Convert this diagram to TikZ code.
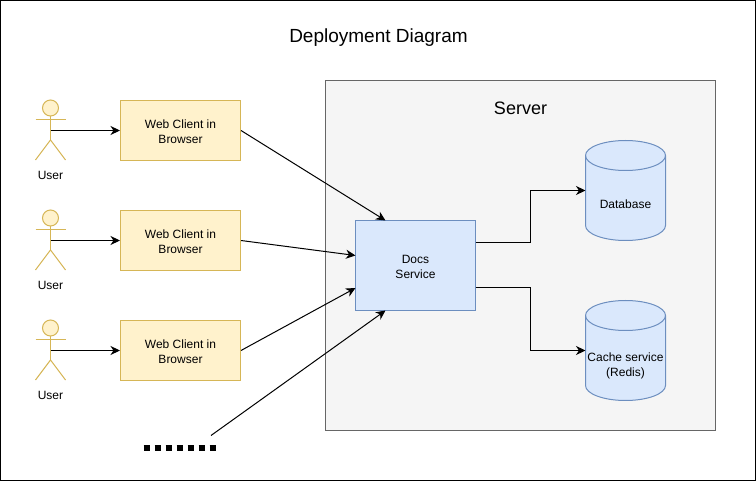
\documentclass[tikz,border=0pt]{standalone}
\usepackage{fontspec}
\setmainfont{Liberation Sans}
\usetikzlibrary{arrows.meta}
\definecolor{yfill}{HTML}{FFF2CC}
\definecolor{ystroke}{HTML}{D6B656}
\definecolor{bfill}{HTML}{DAE8FC}
\definecolor{bstroke}{HTML}{6C8EBF}
\definecolor{gfill}{HTML}{F5F5F5}
\definecolor{gstroke}{HTML}{666666}
\tikzset{
  lbl/.style={font=\fontsize{12}{15}\selectfont,align=center,inner sep=0pt,text=black},
  clientbox/.style={draw=ystroke,fill=yfill,line width=1pt,minimum width=120pt,minimum height=60pt,inner sep=0pt},
  docsbox/.style={draw=bstroke,fill=bfill,line width=1pt,minimum width=120pt,minimum height=90pt,inner sep=0pt},
  serverbox/.style={draw=gstroke,fill=gfill,line width=1pt,minimum width=390pt,minimum height=350pt,inner sep=0pt},
  conn/.style={draw=black,line width=1pt,-{Stealth[length=9.5pt,width=9pt,inset=3pt]}},
  actorline/.style={draw=ystroke,fill=none,line width=1pt},
  dbshape/.style={draw=bstroke,fill=bfill,line width=1pt}
}
\newcommand{\actorfig}[3]{% name, x, top y
  \node[circle,draw=ystroke,fill=yfill,line width=1pt,minimum size=16pt,inner sep=0pt] (#1head) at (#2,#3+8) {};
  \draw[actorline] (#2-15,#3+20) -- (#2+15,#3+20);
  \draw[actorline] (#1head.south) -- (#2,#3+40);
  \draw[actorline] (#2-15,#3+60) -- (#2,#3+40) -- (#2+15,#3+60);
  \coordinate (#1) at (#2,#3+30.5);
  \node[lbl] (#1label) at (#2,#3+75) {User};
}
\newcommand{\cyl}[4]{% name, left x, top y, text offset+text
  \path[dbshape] (#2,#3+15) arc[start angle=180,end angle=0,x radius=40,y radius=-15]
     -- (#2+80,#3+85) arc[start angle=0,end angle=-180,x radius=40,y radius=-15] -- cycle;
  \draw[dbshape,fill=none] (#2,#3+15) arc[start angle=180,end angle=360,x radius=40,y radius=-15];
  \coordinate (#1) at (#2,#3+50);
  \node[lbl] (#1label) at (#2+40,#3+#4) {\csname cyltext#1\endcsname};
}
\newcommand{\cyltextdb}{Database}
\newcommand{\cyltextcache}{Cache service\\(Redis)}
\begin{document}
\begin{tikzpicture}[x=1pt,y=-1pt]
\useasboundingbox (0,0) rectangle (756,481);
\draw[black,line width=1pt,fill=white] (0.5,0.5) rectangle (755.5,480.5);
\node[lbl,font=\fontsize{19}{23}\selectfont] (title) at (378.5,38) {Deployment Diagram};
\node[serverbox] (server) at (520.5,255.5) {};
\node[lbl,font=\fontsize{18}{22}\selectfont] (serverlabel) at (520.5,108) {Server};
\actorfig{user1}{50.5}{100}
\actorfig{user2}{50.5}{210}
\actorfig{user3}{50.5}{320}
\node[clientbox] (client1) at (180.5,130.5) {};
\node[clientbox] (client2) at (180.5,240.5) {};
\node[clientbox] (client3) at (180.5,350.5) {};
\foreach \i in {1,2,3} \node[lbl,yshift=-1pt] (clientlabel\i) at (client\i.center) {Web Client in\\Browser};
\node[docsbox] (docs) at (415.5,265.5) {};
\node[lbl,yshift=-1pt] (docslabel) at (docs.center) {Docs\\Service};
\cyl{db}{585.5}{140.5}{63.5}
\cyl{cache}{585.5}{300.5}{65}
\draw[black,line width=6.5pt,dash pattern=on 6.5pt off 4.5pt] (143.5,447.8) -- (218,447.8);
\coordinate (more) at (211,435.5);
\coordinate (docsTopA) at (385.5,220.5);
\coordinate (docsTopB) at (385.5,310.5);
\coordinate (docsW2) at (355.5,255.5);
\coordinate (docsW3) at (355.5,288);
\coordinate (docsE1) at (475.5,243);
\coordinate (docsE2) at (475.5,288);
\coordinate (viaA) at (530.5,243);
\coordinate (viaB) at (530.5,288);
\foreach \i in {1,2,3} \draw[conn] (user\i) -- (client\i.west);
\draw[conn] (client1.east) -- (docsTopA);
\draw[conn] (client2.east) -- (docsW2);
\draw[conn] (client3.east) -- (docsW3);
\draw[conn] (more) -- (docsTopB);
\draw[conn] (docsE1) -- (viaA) |- (db);
\draw[conn] (docsE2) -- (viaB) |- (cache);
\end{tikzpicture}
\end{document}
